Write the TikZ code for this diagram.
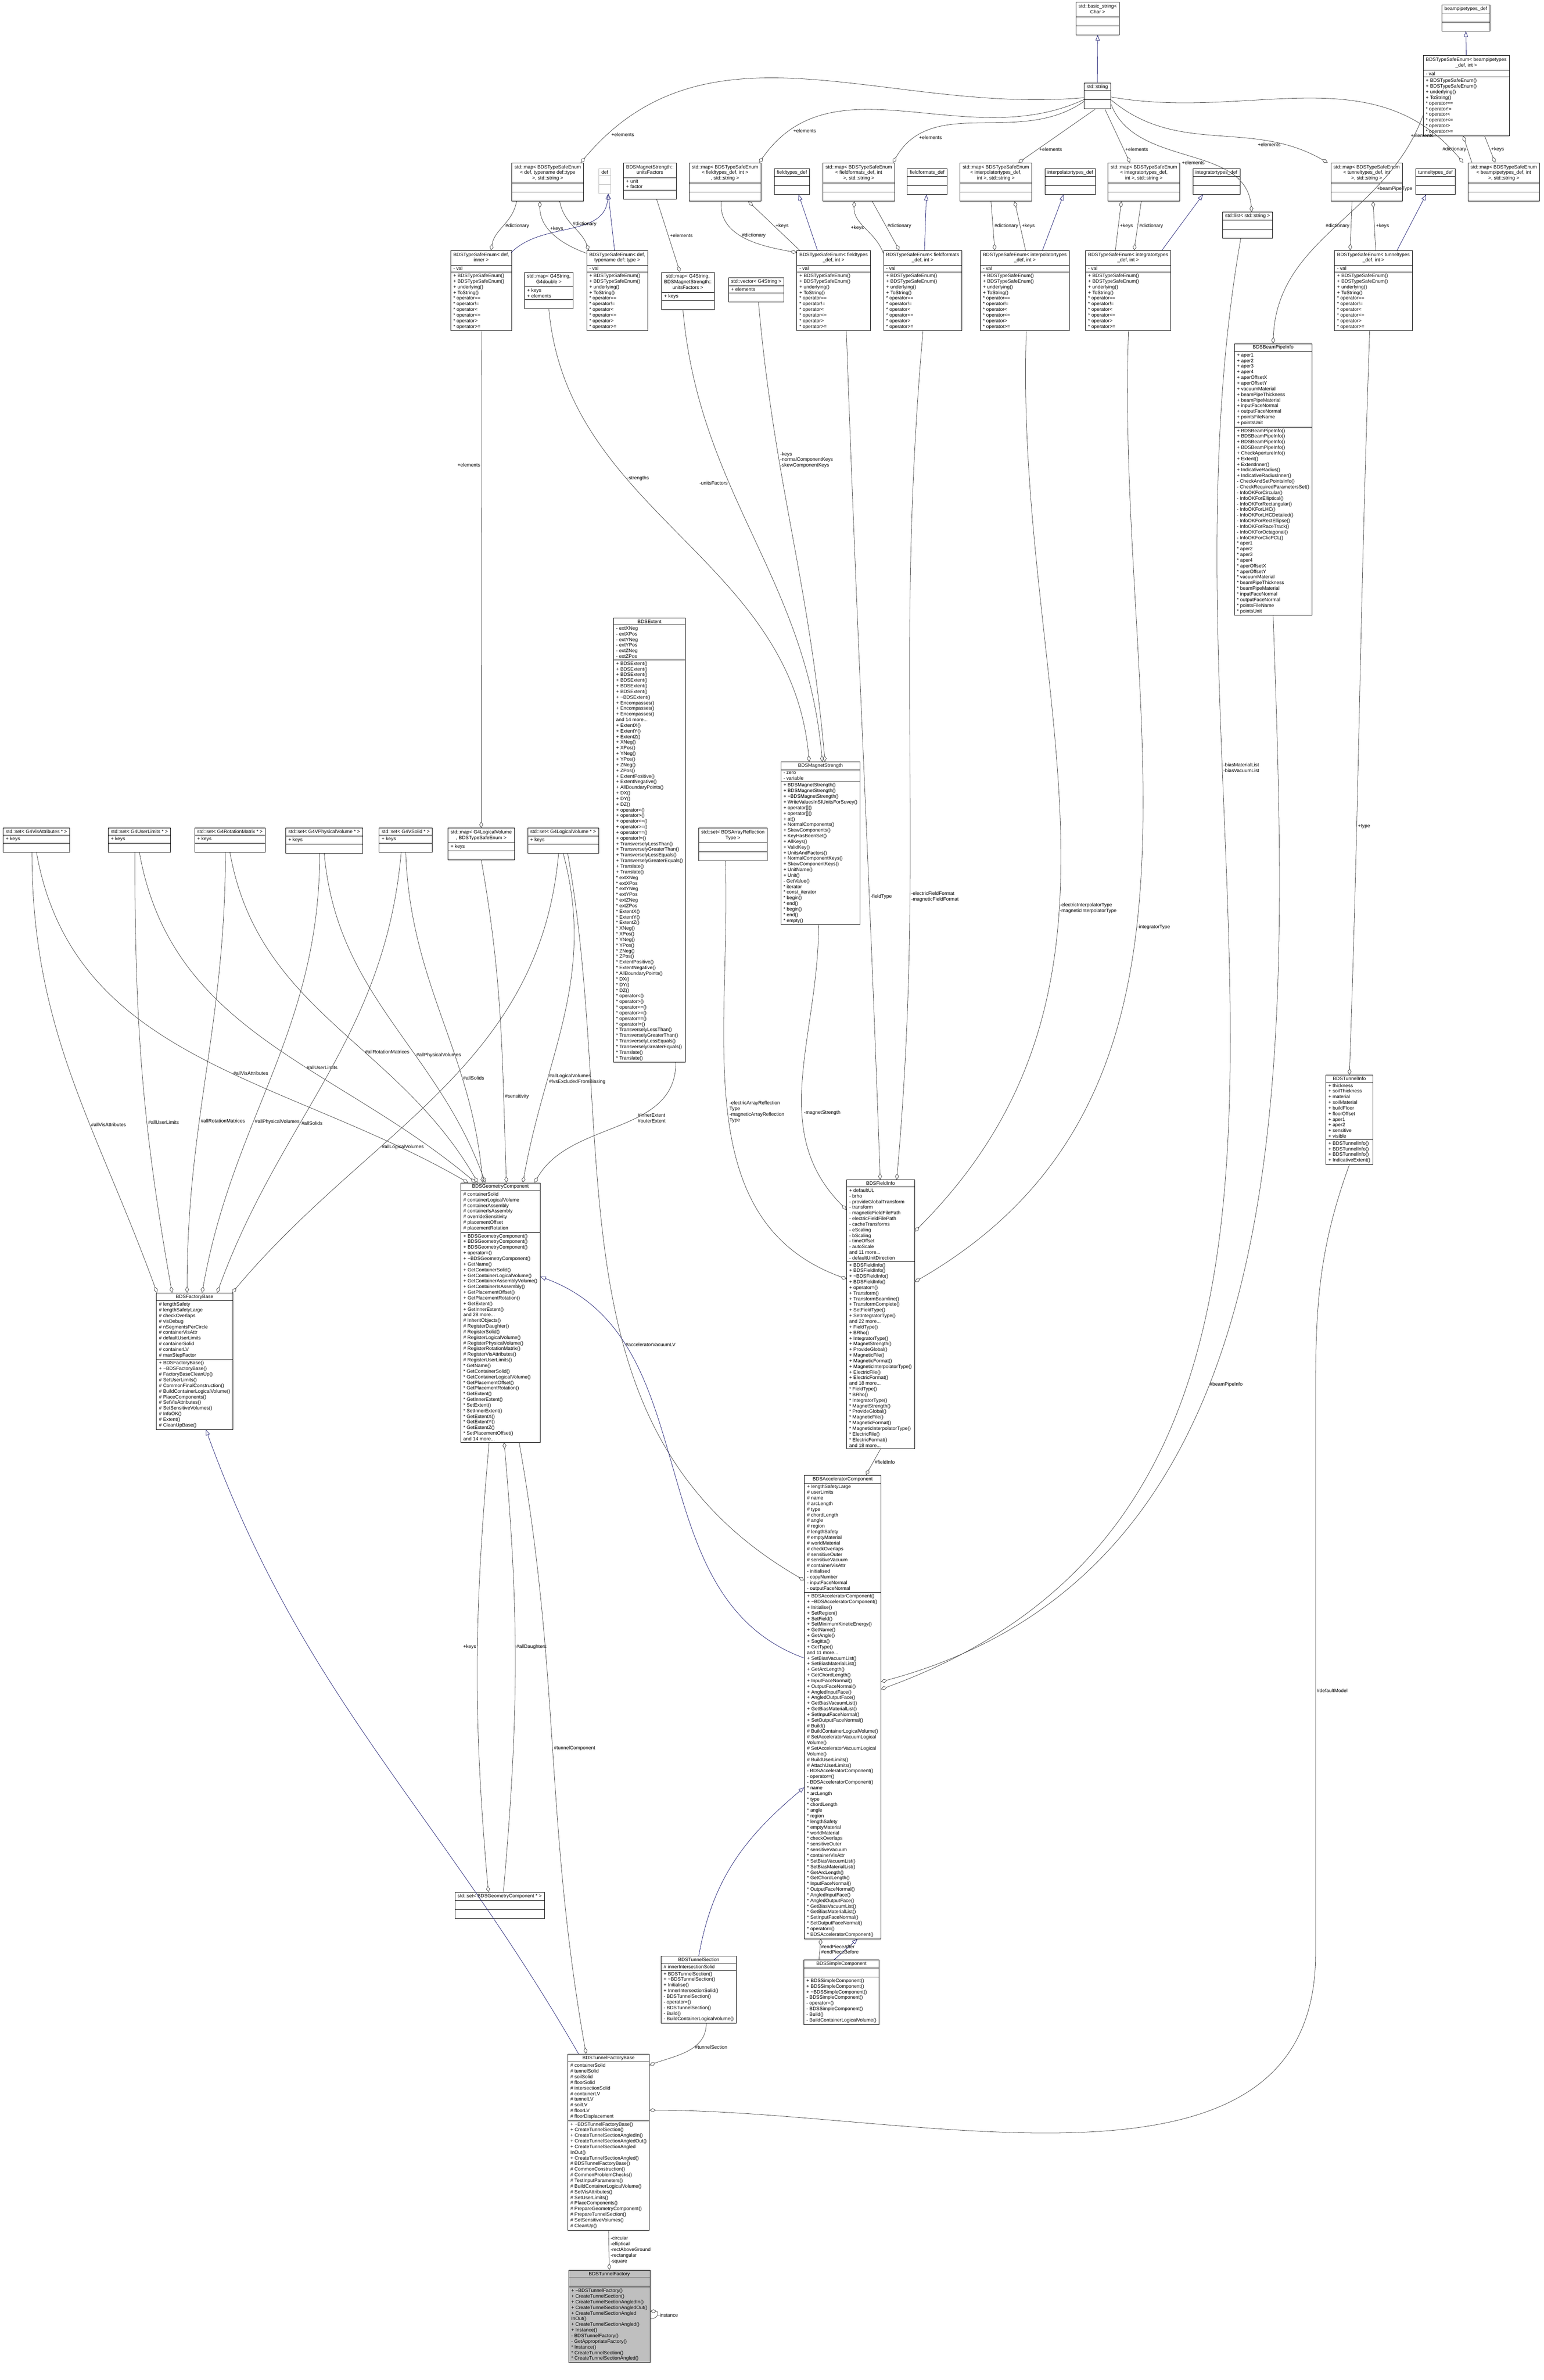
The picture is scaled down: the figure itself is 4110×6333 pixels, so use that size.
\documentclass[tikz,border=0pt]{standalone}
\usepackage{fontspec}
\setmainfont{Liberation Sans}
\usetikzlibrary{shapes.multipart,arrows.meta}
\definecolor{edgegray}{RGB}{64,64,64}
\definecolor{midblue}{RGB}{25,25,112}

\newcommand{\umlfont}{\fontsize{1.3}{1.5}\selectfont}
\newcommand{\ct}[1]{\begin{tabular}{@{}c@{}}#1\end{tabular}}
\newcommand{\tseops}{+ BDSTypeSafeEnum()\\+ BDSTypeSafeEnum()\\+ underlying()\\+ ToString()\\{}* operator==\\{}* operator!=\\{}* operator<\\{}* operator<=\\{}* operator>\\{}* operator>=}
\newcommand{\emp}{\nodepart{second}\strut\nodepart{third}\strut}

\begin{document}
\begin{tikzpicture}[x=0.1pt,y=-0.1pt,
  cls/.style={draw,line width=0.1pt,fill=white,rectangle split,rectangle split parts=3,
    rectangle split part align={center,left,left},align=left,font=\umlfont,
    inner xsep=0.7pt,inner ysep=0.4pt,anchor=north},
  ghost/.style={cls,draw=black!25},
  root/.style={cls,fill=black!25},
  agg/.style={draw=edgegray,line width=0.1pt,-{Diamond[open,length=1.7pt,width=1pt]}},
  inh/.style={draw=midblue,line width=0.1pt,-{Triangle[open,length=1.5pt,width=1.1pt]}},
  lbl/.style={font=\umlfont,align=left,inner sep=0.2pt}]
\useasboundingbox (0,0) rectangle (4110,6333);

% top rows
\node[cls] (bstr) at (2922,5) {\ct{std::basic\_string<\\Char >}\emp};
\node[cls] (str) at (2921,220) {std::string\emp};
\node[cls] (bpdef) at (3902,13) {beampipetypes\_def\emp};
\node[cls] (ebp) at (3903,147) {\ct{BDSTypeSafeEnum< beampipetypes\\\_def, int >}\nodepart{second}- val\nodepart{third}\tseops};

\node[cls] (mdef) at (1458,433) {\ct{std::map< BDSTypeSafeEnum\\< def, typename def::type\\>, std::string >}\emp};
\node[ghost] (def) at (1610,448) {def\emp};
\node[cls] (uf) at (1730,433) {\ct{BDSMagnetStrength::\\unitsFactors}\nodepart{second}+ unit\\+ factor\nodepart{third}\strut};
\node[cls] (mft) at (1930,433) {\ct{std::map< BDSTypeSafeEnum\\< fieldtypes\_def, int >\\, std::string >}\emp};
\node[cls] (ftdef) at (2108,448) {fieldtypes\_def\emp};
\node[cls] (mff) at (2286,433) {\ct{std::map< BDSTypeSafeEnum\\< fieldformats\_def, int\\>, std::string >}\emp};
\node[cls] (ffdef) at (2468,448) {fieldformats\_def\emp};
\node[cls] (mip) at (2651,433) {\ct{std::map< BDSTypeSafeEnum\\< interpolatortypes\_def,\\int >, std::string >}\emp};
\node[cls] (ipdef) at (2849,448) {interpolatortypes\_def\emp};
\node[cls] (mig) at (3045,433) {\ct{std::map< BDSTypeSafeEnum\\< integratortypes\_def,\\int >, std::string >}\emp};
\node[cls] (igdef) at (3238,448) {integratortypes\_def\emp};
\node[cls] (lst) at (3321,564) {std::list< std::string >\emp};
\node[cls] (mtt) at (3638,433) {\ct{std::map< BDSTypeSafeEnum\\< tunneltypes\_def, int\\>, std::string >}\emp};
\node[cls] (ttdef) at (3821,448) {tunneltypes\_def\emp};
\node[cls] (mbp) at (4003,433) {\ct{std::map< BDSTypeSafeEnum\\< beampipetypes\_def, int\\>, std::string >}\emp};

\node[cls] (edi) at (1281,666) {\ct{BDSTypeSafeEnum< def,\\inner >}\nodepart{second}- val\nodepart{third}\tseops};
\node[cls] (mgd) at (1461,724) {\ct{std::map< G4String,\\G4double >}\nodepart{second}+ keys\\+ elements\nodepart{third}\strut};
\node[cls] (edt) at (1643,666) {\ct{BDSTypeSafeEnum< def,\\typename def::type >}\nodepart{second}- val\nodepart{third}\tseops};
\node[cls] (mgu) at (1831,724) {\ct{std::map< G4String,\\BDSMagnetStrength::\\unitsFactors >}\nodepart{second}+ keys\nodepart{third}\strut};
\node[cls] (vec) at (2013,739) {std::vector< G4String >\nodepart{second}+ elements\nodepart{third}\strut};
\node[cls] (eft) at (2219,666) {\ct{BDSTypeSafeEnum< fieldtypes\\\_def, int >}\nodepart{second}- val\nodepart{third}\tseops};
\node[cls] (eff) at (2456,666) {\ct{BDSTypeSafeEnum< fieldformats\\\_def, int >}\nodepart{second}- val\nodepart{third}\tseops};
\node[cls] (eip) at (2728,666) {\ct{BDSTypeSafeEnum< interpolatortypes\\\_def, int >}\nodepart{second}- val\nodepart{third}\tseops};
\node[cls] (eig) at (3003,666) {\ct{BDSTypeSafeEnum< integratortypes\\\_def, int >}\nodepart{second}- val\nodepart{third}\tseops};
\node[cls] (ett) at (3656,666) {\ct{BDSTypeSafeEnum< tunneltypes\\\_def, int >}\nodepart{second}- val\nodepart{third}\tseops};

\node[cls] (bpi) at (3389,914) {BDSBeamPipeInfo\nodepart{second}+ aper1\\+ aper2\\+ aper3\\+ aper4\\+ aperOffsetX\\+ aperOffsetY\\+ vacuumMaterial\\+ beamPipeThickness\\+ beamPipeMaterial\\+ inputFaceNormal\\+ outputFaceNormal\\+ pointsFileName\\+ pointsUnit
\nodepart{third}+ BDSBeamPipeInfo()\\+ BDSBeamPipeInfo()\\+ BDSBeamPipeInfo()\\+ BDSBeamPipeInfo()\\+ CheckApertureInfo()\\+ Extent()\\+ ExtentInner()\\+ IndicativeRadius()\\+ IndicativeRadiusInner()\\- CheckAndSetPointsInfo()\\- CheckRequiredParametersSet()\\- InfoOKForCircular()\\- InfoOKForElliptical()\\- InfoOKForRectangular()\\- InfoOKForLHC()\\- InfoOKForLHCDetailed()\\- InfoOKForRectEllipse()\\- InfoOKForRaceTrack()\\- InfoOKForOctagonal()\\- InfoOKForClicPCL()\\{}* aper1\\{}* aper2\\{}* aper3\\{}* aper4\\{}* aperOffsetX\\{}* aperOffsetY\\{}* vacuumMaterial\\{}* beamPipeThickness\\{}* beamPipeMaterial\\{}* inputFaceNormal\\{}* outputFaceNormal\\{}* pointsFileName\\{}* pointsUnit};

% middle
\node[cls] (ext) at (1729,1644) {BDSExtent\nodepart{second}- extXNeg\\- extXPos\\- extYNeg\\- extYPos\\- extZNeg\\- extZPos
\nodepart{third}+ BDSExtent()\\+ BDSExtent()\\+ BDSExtent()\\+ BDSExtent()\\+ BDSExtent()\\+ BDSExtent()\\+ \textasciitilde BDSExtent()\\+ Encompasses()\\+ Encompasses()\\+ Encompasses()\\and 14 more...\\+ ExtentX()\\+ ExtentY()\\+ ExtentZ()\\+ XNeg()\\+ XPos()\\+ YNeg()\\+ YPos()\\+ ZNeg()\\+ ZPos()\\+ ExtentPositive()\\+ ExtentNegative()\\+ AllBoundaryPoints()\\+ DX()\\+ DY()\\+ DZ()\\+ operator<()\\+ operator>()\\+ operator<=()\\+ operator>=()\\+ operator==()\\+ operator!=()\\+ TransverselyLessThan()\\+ TransverselyGreaterThan()\\+ TransverselyLessEquals()\\+ TransverselyGreaterEquals()\\+ Translate()\\+ Translate()\\{}* extXNeg\\{}* extXPos\\{}* extYNeg\\{}* extYPos\\{}* extZNeg\\{}* extZPos\\{}* ExtentX()\\{}* ExtentY()\\{}* ExtentZ()\\{}* XNeg()\\{}* XPos()\\{}* YNeg()\\{}* YPos()\\{}* ZNeg()\\{}* ZPos()\\{}* ExtentPositive()\\{}* ExtentNegative()\\{}* AllBoundaryPoints()\\{}* DX()\\{}* DY()\\{}* DZ()\\{}* operator<()\\{}* operator>()\\{}* operator<=()\\{}* operator>=()\\{}* operator==()\\{}* operator!=()\\{}* TransverselyLessThan()\\{}* TransverselyGreaterThan()\\{}* TransverselyLessEquals()\\{}* TransverselyGreaterEquals()\\{}* Translate()\\{}* Translate()};

\node[cls] (ms) at (2184,2027) {BDSMagnetStrength\nodepart{second}- zero\\- variable
\nodepart{third}+ BDSMagnetStrength()\\+ BDSMagnetStrength()\\+ \textasciitilde BDSMagnetStrength()\\+ WriteValuesInSIUnitsForSuvey()\\+ operator[]()\\+ operator[]()\\+ at()\\+ NormalComponents()\\+ SkewComponents()\\+ KeyHasBeenSet()\\+ AllKeys()\\+ ValidKey()\\+ UnitsAndFactors()\\+ NormalComponentKeys()\\+ SkewComponentKeys()\\+ UnitName()\\+ Unit()\\- GetValue()\\{}* iterator\\{}* const\_iterator\\{}* begin()\\{}* end()\\{}* begin()\\{}* end()\\{}* empty()};

\node[cls] (sar) at (1951,2203) {\ct{std::set< BDSArrayReflection\\Type >}\emp};

\node[cls] (sva) at (97,2203) {std::set< G4VisAttributes * >\nodepart{second}+ keys\nodepart{third}\strut};
\node[cls] (sul) at (371,2203) {std::set< G4UserLimits * >\nodepart{second}+ keys\nodepart{third}\strut};
\node[cls] (srm) at (612,2203) {std::set< G4RotationMatrix * >\nodepart{second}+ keys\nodepart{third}\strut};
\node[cls] (spv) at (863,2203) {std::set< G4VPhysicalVolume * >\nodepart{second}+ keys\nodepart{third}\strut};
\node[cls] (sso) at (1080,2203) {std::set< G4VSolid * >\nodepart{second}+ keys\nodepart{third}\strut};
\node[cls] (mlv) at (1281,2203) {\ct{std::map< G4LogicalVolume\\*, BDSTypeSafeEnum >}\nodepart{second}+ keys\nodepart{third}\strut};
\node[cls] (slv) at (1499,2203) {std::set< G4LogicalVolume * >\nodepart{second}+ keys\nodepart{third}\strut};

\node[cls] (ti) at (3592,2860) {BDSTunnelInfo\nodepart{second}+ thickness\\+ soilThickness\\+ material\\+ soilMaterial\\+ buildFloor\\+ floorOffset\\+ aper1\\+ aper2\\+ sensitive\\+ visible
\nodepart{third}+ BDSTunnelInfo()\\+ BDSTunnelInfo()\\+ BDSTunnelInfo()\\+ IndicativeExtent()};

\node[cls] (fi) at (2344,3139) {BDSFieldInfo\nodepart{second}+ defaultUL\\- brho\\- provideGlobalTransform\\- transform\\- magneticFieldFilePath\\- electricFieldFilePath\\- cacheTransforms\\- eScaling\\- bScaling\\- timeOffset\\- autoScale\\and 11 more...\\- defaultUnitDirection
\nodepart{third}+ BDSFieldInfo()\\+ BDSFieldInfo()\\+ \textasciitilde BDSFieldInfo()\\+ BDSFieldInfo()\\+ operator=()\\+ Transform()\\+ TransformBeamline()\\+ TransformComplete()\\+ SetFieldType()\\+ SetIntegratorType()\\and 22 more...\\+ FieldType()\\+ BRho()\\+ IntegratorType()\\+ MagnetStrength()\\+ ProvideGlobal()\\+ MagneticFile()\\+ MagneticFormat()\\+ MagneticInterpolatorType()\\+ ElectricFile()\\+ ElectricFormat()\\and 18 more...\\{}* FieldType()\\{}* BRho()\\{}* IntegratorType()\\{}* MagnetStrength()\\{}* ProvideGlobal()\\{}* MagneticFile()\\{}* MagneticFormat()\\{}* MagneticInterpolatorType()\\{}* ElectricFile()\\{}* ElectricFormat()\\and 18 more...};

\node[cls] (gc) at (1332,3147) {BDSGeometryComponent\nodepart{second}\# containerSolid\\\# containerLogicalVolume\\\# containerAssembly\\\# containerIsAssembly\\\# overrideSensitivity\\\# placementOffset\\\# placementRotation
\nodepart{third}+ BDSGeometryComponent()\\+ BDSGeometryComponent()\\+ BDSGeometryComponent()\\+ operator=()\\+ \textasciitilde BDSGeometryComponent()\\+ GetName()\\+ GetContainerSolid()\\+ GetContainerLogicalVolume()\\+ GetContainerAssemblyVolume()\\+ GetContainerIsAssembly()\\+ GetPlacementOffset()\\+ GetPlacementRotation()\\+ GetExtent()\\+ GetInnerExtent()\\and 28 more...\\\# InheritObjects()\\\# RegisterDaughter()\\\# RegisterSolid()\\\# RegisterLogicalVolume()\\\# RegisterPhysicalVolume()\\\# RegisterRotationMatrix()\\\# RegisterVisAttributes()\\\# RegisterUserLimits()\\{}* GetName()\\{}* GetContainerSolid()\\{}* GetContainerLogicalVolume()\\{}* GetPlacementOffset()\\{}* GetPlacementRotation()\\{}* GetExtent()\\{}* GetInnerExtent()\\{}* SetExtent()\\{}* SetInnerExtent()\\{}* GetExtentX()\\{}* GetExtentY()\\{}* GetExtentZ()\\{}* SetPlacementOffset()\\and 14 more...};

\node[cls] (fb) at (518,3440) {BDSFactoryBase\nodepart{second}\# lengthSafety\\\# lengthSafetyLarge\\\# checkOverlaps\\\# visDebug\\\# nSegmentsPerCircle\\\# containerVisAttr\\\# defaultUserLimits\\\# containerSolid\\\# containerLV\\\# maxStepFactor
\nodepart{third}+ BDSFactoryBase()\\+ \textasciitilde BDSFactoryBase()\\\# FactoryBaseCleanUp()\\\# SetUserLimits()\\\# CommonFinalConstruction()\\\# BuildContainerLogicalVolume()\\\# PlaceComponents()\\\# SetVisAttributes()\\\# SetSensitiveVolumes()\\\# InfoOK()\\\# Extent()\\\# CleanUpBase()};

\node[cls] (ac) at (2243,3925) {BDSAcceleratorComponent\nodepart{second}+ lengthSafetyLarge\\\# userLimits\\\# name\\\# arcLength\\\# type\\\# chordLength\\\# angle\\\# region\\\# lengthSafety\\\# emptyMaterial\\\# worldMaterial\\\# checkOverlaps\\\# sensitiveOuter\\\# sensitiveVacuum\\\# containerVisAttr\\- initialised\\- copyNumber\\- inputFaceNormal\\- outputFaceNormal
\nodepart{third}+ BDSAcceleratorComponent()\\+ \textasciitilde BDSAcceleratorComponent()\\+ Initialise()\\+ SetRegion()\\+ SetField()\\+ SetMinimumKineticEnergy()\\+ GetName()\\+ GetAngle()\\+ Sagitta()\\+ GetType()\\and 11 more...\\+ SetBiasVacuumList()\\+ SetBiasMaterialList()\\+ GetArcLength()\\+ GetChordLength()\\+ InputFaceNormal()\\+ OutputFaceNormal()\\+ AngledInputFace()\\+ AngledOutputFace()\\+ GetBiasVacuumList()\\+ GetBiasMaterialList()\\+ SetInputFaceNormal()\\+ SetOutputFaceNormal()\\\# Build()\\\# BuildContainerLogicalVolume()\\\# SetAcceleratorVacuumLogical\\Volume()\\\# SetAcceleratorVacuumLogical\\Volume()\\\# BuildUserLimits()\\\# AttachUserLimits()\\- BDSAcceleratorComponent()\\- operator=()\\- BDSAcceleratorComponent()\\{}* name\\{}* arcLength\\{}* type\\{}* chordLength\\{}* angle\\{}* region\\{}* lengthSafety\\{}* emptyMaterial\\{}* worldMaterial\\{}* checkOverlaps\\{}* sensitiveOuter\\{}* sensitiveVacuum\\{}* containerVisAttr\\{}* SetBiasVacuumList()\\{}* SetBiasMaterialList()\\{}* GetArcLength()\\{}* GetChordLength()\\{}* InputFaceNormal()\\{}* OutputFaceNormal()\\{}* AngledInputFace()\\{}* AngledOutputFace()\\{}* GetBiasVacuumList()\\{}* GetBiasMaterialList()\\{}* SetInputFaceNormal()\\{}* SetOutputFaceNormal()\\{}* operator=()\\{}* BDSAcceleratorComponent()};

\node[cls] (sgc) at (1330,5035) {std::set< BDSGeometryComponent * >\emp};

\node[cls] (ts) at (1860,5205) {BDSTunnelSection\nodepart{second}\# innerIntersectionSolid
\nodepart{third}+ BDSTunnelSection()\\+ \textasciitilde BDSTunnelSection()\\+ Initialise()\\+ InnerIntersectionSolid()\\- BDSTunnelSection()\\- operator=()\\- BDSTunnelSection()\\- Build()\\- BuildContainerLogicalVolume()};

\node[cls] (sc) at (2240,5215) {BDSSimpleComponent\nodepart{second}\strut
\nodepart{third}+ BDSSimpleComponent()\\+ BDSSimpleComponent()\\+ \textasciitilde BDSSimpleComponent()\\- BDSSimpleComponent()\\- operator=()\\- BDSSimpleComponent()\\- Build()\\- BuildContainerLogicalVolume()};

\node[cls] (tfb) at (1620,5465) {BDSTunnelFactoryBase\nodepart{second}\# containerSolid\\\# tunnelSolid\\\# soilSolid\\\# floorSolid\\\# intersectionSolid\\\# containerLV\\\# tunnelLV\\\# soilLV\\\# floorLV\\\# floorDisplacement
\nodepart{third}+ \textasciitilde BDSTunnelFactoryBase()\\+ CreateTunnelSection()\\+ CreateTunnelSectionAngledIn()\\+ CreateTunnelSectionAngledOut()\\+ CreateTunnelSectionAngled\\InOut()\\+ CreateTunnelSectionAngled()\\\# BDSTunnelFactoryBase()\\\# CommonConstruction()\\\# CommonProblemChecks()\\\# TestInputParameters()\\\# BuildContainerLogicalVolume()\\\# SetVisAttributes()\\\# SetUserLimits()\\\# PlaceComponents()\\\# PrepareGeometryComponent()\\\# PrepareTunnelSection()\\\# SetSensitiveVolumes()\\\# CleanUp()};

\node[root] (tf) at (1622,6040) {BDSTunnelFactory\nodepart{second}\strut
\nodepart{third}+ \textasciitilde BDSTunnelFactory()\\+ CreateTunnelSection()\\+ CreateTunnelSectionAngledIn()\\+ CreateTunnelSectionAngledOut()\\+ CreateTunnelSectionAngled\\InOut()\\+ CreateTunnelSectionAngled()\\+ Instance()\\- BDSTunnelFactory()\\- GetAppropriateFactory()\\{}* Instance()\\{}* CreateTunnelSection()\\{}* CreateTunnelSectionAngled()};

% inheritance
\draw[inh] (str.north) -- (bstr.south);
\draw[inh] (ebp.north) -- (bpdef.south);
\draw[inh] ([shift={(-2,6)}]edi.north east) to[out=45,in=-95] ([shift={(9,0)}]def.south);
\draw[inh] ([shift={(-7,0)}]edt.north) -- ([shift={(9,0)}]def.south);
\draw[inh] ([shift={(-43,0)}]eft.north) -- ([shift={(18,0)}]ftdef.south);
\draw[inh] ([shift={(5,0)}]eff.north) -- ([shift={(-2,0)}]ffdef.south);
\draw[inh] ([shift={(47,0)}]eip.north) -- ([shift={(-18,0)}]ipdef.south);
\draw[inh] ([shift={(90,0)}]eig.north) -- ([shift={(-36,0)}]igdef.south);
\draw[inh] ([shift={(63,0)}]ett.north) -- ([shift={(-25,0)}]ttdef.south);

% std::string elements
\draw[agg] ([shift={(0,40)}]str.north west) to[out=185,in=50] node[lbl,pos=.93,right=0.6pt]{+elements} ([shift={(-8,0)}]mdef.north east);
\draw[agg] ([shift={(0,45)}]str.north west) to[out=205,in=55] node[lbl,pos=.87,right=0.4pt]{+elements} ([shift={(-5,0)}]mft.north east);
\draw[agg] ([shift={(0,50)}]str.north west) to[out=215,in=60] node[lbl,pos=.83,right=0.4pt]{+elements} ([shift={(-5,0)}]mff.north east);
\draw[agg] ([shift={(-5,0)}]str.south) -- node[lbl,pos=.75,right=0.2pt]{+elements} ([shift={(60,0)}]mip.north);
\draw[agg] ([shift={(20,0)}]str.south) -- node[lbl,pos=.75,right=0.2pt]{+elements} ([shift={(-37,0)}]mig.north);
\draw[agg] ([shift={(0,55)}]str.north east) to[out=-70,in=95] node[lbl,pos=.6,left=0.2pt]{+elements} ([shift={(11,0)}]lst.north);
\draw[agg] ([shift={(0,45)}]str.north east) to[out=-40,in=150] node[lbl,pos=.8,left=0.2pt]{+elements} ([shift={(-8,0)}]mtt.north west);
\draw[agg] ([shift={(0,38)}]str.north east) to[out=-10,in=130] node[lbl,pos=.9,left=0.2pt]{+elements} ([shift={(-12,0)}]mbp.north west);

\draw[agg] ([shift={(0,160)}]ebp.north west) to[out=250,in=88] node[lbl,pos=.3,right=0.2pt]{+beamPipeType} (bpi.north);
\draw[agg] ([shift={(-85,0)}]mbp.north) -- node[lbl,left=0.1pt]{\#dictionary} ([shift={(-8,0)}]ebp.south);
\draw[agg] ([shift={(49,0)}]ebp.south) -- node[lbl,right=0.1pt]{+keys} ([shift={(-23,0)}]mbp.north);

% dictionaries and keys
\draw[agg] ([shift={(-83,0)}]mdef.south) to[out=-100,in=80] node[lbl,right=0.2pt]{\#dictionary} ([shift={(26,0)}]edi.north);
\draw[agg] ([shift={(0,8)}]edt.north west) to[out=160,in=-90] node[lbl,pos=.6,right=0.1pt]{+keys} ([shift={(-21,0)}]mdef.south);
\draw[agg] ([shift={(32,0)}]mdef.south) to[out=-80,in=110] node[lbl,pos=.45,right=0.2pt]{\#dictionary} ([shift={(6,0)}]edt.north west);
\draw[agg] ([shift={(18,0)}]uf.south) -- node[lbl,right=0.2pt]{+elements} ([shift={(-21,0)}]mgu.north);

\draw[agg] ([shift={(-10,0)}]mft.south) to[out=-95,in=170] node[lbl,pos=.45,right=0.2pt]{\#dictionary} ([shift={(0,6)}]eft.north west);
\draw[agg] ([shift={(8,0)}]eft.north west) -- node[lbl,right=0.2pt]{+keys} ([shift={(62,0)}]mft.south);
\draw[agg] ([shift={(0,8)}]eff.north west) to[out=110,in=-92] node[lbl,pos=.5,left=0.2pt]{+keys} ([shift={(-12,0)}]mff.south);
\draw[agg] ([shift={(36,0)}]mff.south) -- node[lbl,right=0.2pt]{\#dictionary} ([shift={(-62,0)}]eff.north);
\draw[agg] ([shift={(-13,0)}]mip.south) -- node[lbl,right=0.2pt]{\#dictionary} ([shift={(-80,0)}]eip.north);
\draw[agg] ([shift={(2,0)}]eip.north) -- node[lbl,right=0.2pt]{+keys} ([shift={(50,0)}]mip.south);
\draw[agg] ([shift={(-34,0)}]eig.north) -- node[lbl,right=0.2pt]{+keys} ([shift={(-60,0)}]mig.south);
\draw[agg] ([shift={(-7,0)}]mig.south) -- node[lbl,right=0.2pt]{\#dictionary} ([shift={(16,0)}]eig.north);
\draw[agg] ([shift={(-39,0)}]mtt.south) -- node[lbl,left=0.2pt]{\#dictionary} ([shift={(-62,0)}]ett.north);
\draw[agg] ([shift={(6,0)}]ett.north) -- node[lbl,right=0.2pt]{+keys} ([shift={(17,0)}]mtt.south);

% magnet strength and field info
\draw[agg] ([shift={(1,0)}]edi.south) -- node[lbl,pos=.27,left=0.1pt]{+elements} (mlv.north);
\draw[agg] (mgd.south) to[out=-85,in=95] node[lbl,pos=.35,right=0.1pt]{-strengths} ([shift={(-30,0)}]ms.north);
\draw[agg] ([shift={(-13,0)}]mgu.south) to[out=-85,in=95] node[lbl,pos=.37,left=0.1pt]{-unitsFactors} ([shift={(5,0)}]ms.north);
\draw[agg] ([shift={(6,0)}]vec.south) to[out=-85,in=95] node[lbl,pos=.33,right=0.1pt]{-keys\\-normalComponentKeys\\-skewComponentKeys} ([shift={(12,0)}]ms.north);
\draw[agg] ([shift={(34,0)}]eft.south) to[out=-88,in=92] node[lbl,pos=.68,right=0.1pt]{-fieldType} ([shift={(-1,0)}]fi.north);
\draw[agg] ([shift={(1,0)}]eff.south) to[out=-95,in=85] node[lbl,pos=.68,right=0.1pt]{-electricFieldFormat\\-magneticFieldFormat} ([shift={(43,0)}]fi.north);
\draw[agg] ([shift={(4,0)}]eip.south) to[out=-92,in=45] node[lbl,pos=.6,right=0.1pt]{-electricInterpolatorType\\-magneticInterpolatorType} ([shift={(0,138)}]fi.north east);
\draw[agg] ([shift={(1,0)}]eig.south) to[out=-92,in=30] node[lbl,pos=.55,right=0.1pt]{-integratorType} ([shift={(0,272)}]fi.north east);
\draw[agg] ([shift={(-5,0)}]ms.south) to[out=-90,in=135] node[lbl,pos=.62,right=0.1pt]{-magnetStrength} ([shift={(0,80)}]fi.north west);
\draw[agg] ([shift={(-20,0)}]sar.south) to[out=-88,in=160] node[lbl,pos=.5,right=0.1pt]{-electricArrayReflection\\Type\\-magneticArrayReflection\\Type} ([shift={(0,264)}]fi.north west);
\draw[agg] ([shift={(-10,0)}]ett.south) to[out=-92,in=88] node[lbl,pos=.68,right=0.1pt]{+type} (ti.north);
\draw[agg] (bpi.south) to[out=-88,in=15] node[lbl,pos=.6,right=0.1pt]{\#beamPipeInfo} ([shift={(0,550)}]ac.north east);
\draw[agg] ([shift={(-18,0)}]lst.south) to[out=-100,in=20] node[lbl,pos=.3,right=0.1pt]{-biasMaterialList\\-biasVacuumList} ([shift={(0,570)}]ac.north east);
\draw[agg] (fi.south) -- node[lbl,right=0.2pt]{\#fieldInfo} ([shift={(62,0)}]ac.north);

% geometry
\draw[agg] ([shift={(70,0)}]ext.south) to[out=-90,in=60] node[lbl,pos=.4,right=0.1pt]{\#innerExtent\\\#outerExtent} ([shift={(-15,0)}]gc.north east);
\draw[agg] ([shift={(-12,0)}]sva.south) to[out=-90,in=110] node[lbl,pos=.62,right=0.1pt]{\#allVisAttributes} ([shift={(-100,0)}]fb.north);
\draw[agg] (sva.south) to[out=-80,in=150] node[lbl,pos=.57,right=0.1pt]{\#allVisAttributes} ([shift={(20,0)}]gc.north west);
\draw[agg] ([shift={(-12,0)}]sul.south) to[out=-90,in=100] node[lbl,pos=.62,right=0.1pt]{\#allUserLimits} ([shift={(-60,0)}]fb.north);
\draw[agg] (sul.south) to[out=-80,in=140] node[lbl,pos=.6,right=0.1pt]{\#allUserLimits} ([shift={(40,0)}]gc.north west);
\draw[agg] ([shift={(-12,0)}]srm.south) to[out=-90,in=90] node[lbl,pos=.62,right=0.1pt]{\#allRotationMatrices} ([shift={(-20,0)}]fb.north);
\draw[agg] (srm.south) to[out=-80,in=120] node[lbl,pos=.6,right=0.1pt]{\#allRotationMatrices} ([shift={(-60,0)}]gc.north);
\draw[agg] ([shift={(-12,0)}]spv.south) to[out=-90,in=80] node[lbl,pos=.62,right=0.1pt]{\#allPhysicalVolumes} ([shift={(20,0)}]fb.north);
\draw[agg] (spv.south) to[out=-85,in=110] node[lbl,pos=.62,right=0.1pt]{\#allPhysicalVolumes} ([shift={(-40,0)}]gc.north);
\draw[agg] ([shift={(-12,0)}]sso.south) to[out=-95,in=70] node[lbl,pos=.62,right=0.1pt]{\#allSolids} ([shift={(60,0)}]fb.north);
\draw[agg] (sso.south) to[out=-88,in=95] node[lbl,pos=.7,right=0.1pt]{\#allSolids} ([shift={(-47,0)}]gc.north);
\draw[agg] (mlv.south) to[out=-80,in=92] node[lbl,pos=.75,right=0.1pt]{\#sensitivity} ([shift={(16,0)}]gc.north);
\draw[agg] ([shift={(-12,0)}]slv.south) to[out=-95,in=50] node[lbl,pos=.65,right=0.1pt]{\#allLogicalVolumes} ([shift={(100,0)}]fb.north);
\draw[agg] (slv.south) to[out=-75,in=80] node[lbl,pos=.7,right=0.1pt]{\#allLogicalVolumes\\\#lvsExcludedFromBiasing} ([shift={(60,0)}]gc.north);
\draw[agg] ([shift={(12,0)}]slv.south) to[out=-80,in=150] node[lbl,pos=.6,right=0.1pt]{\#acceleratorVacuumLV} ([shift={(0,280)}]ac.north west);

\draw[agg] ([shift={(-30,0)}]gc.south) to[out=-95,in=95] node[lbl,pos=.45,left=0.1pt]{+keys} ([shift={(-30,0)}]sgc.north);
\draw[agg] ([shift={(10,0)}]sgc.north) to[out=85,in=-85] node[lbl,pos=.55,right=0.1pt]{\#allDaughters} ([shift={(10,0)}]gc.south);
\draw[agg] ([shift={(50,0)}]gc.south) to[out=-80,in=100] node[lbl,pos=.5,right=0.1pt]{\#tunnelComponent} ([shift={(-60,0)}]tfb.north);
\draw[inh] ([shift={(0,487)}]ac.north west) to[out=160,in=-20] ([shift={(0,250)}]gc.north east);

\draw[inh] (ts.north) to[out=80,in=220] ([shift={(0,831)}]ac.north west);
\draw[inh] ([shift={(-20,0)}]sc.north) -- ([shift={(40,0)}]ac.south);
\draw[agg] ([shift={(-60,0)}]sc.north) -- node[lbl,right=0.1pt]{\#endPieceAfter\\\#endPieceBefore} ([shift={(-58,0)}]ac.south);
\draw[agg] ([shift={(20,0)}]ts.south) to[out=-90,in=20] node[lbl,pos=.4,right=0.1pt]{\#tunnelSection} ([shift={(0,30)}]tfb.north east);
\draw[agg] (ti.south) to[out=-110,in=90] ++(-90,700) -- node[lbl,pos=.5,right=0.1pt]{\#defaultModel} ++(0,1400) to[out=-90,in=0] ([shift={(0,150)}]tfb.north east);
\draw[inh] ([shift={(-80,0)}]tfb.north) to[out=120,in=-70] ([shift={(30,0)}]fb.south);
\draw[agg] (tfb.south) -- node[lbl,right=0.2pt]{-circular\\-elliptical\\-rectAboveGround\\-rectangular\\-square} (tf.north);
\draw[agg] ([shift={(0,130)}]tf.north east) to[out=0,in=0,looseness=3] node[lbl,right=0.1pt]{-instance} ([shift={(0,110)}]tf.north east);
\end{tikzpicture}
\end{document}
